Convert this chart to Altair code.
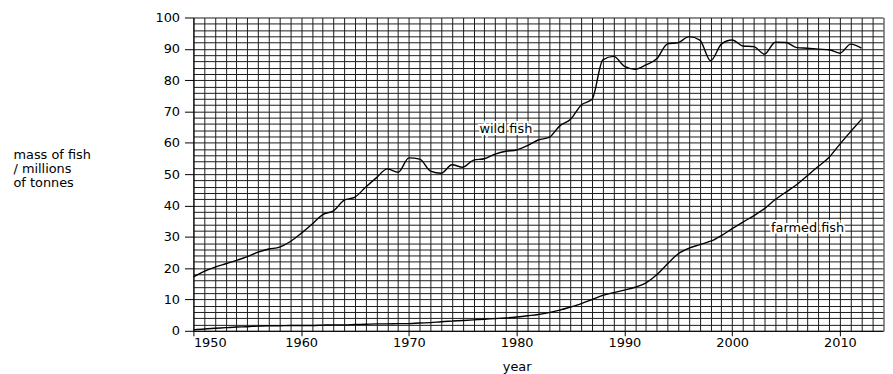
import altair as alt
import pandas as pd

years = list(range(1950, 2013))
wild = [17.2, 19.0, 20.3, 21.4, 22.5, 23.7, 25.1, 26.1, 26.7, 28.5,
        31.1, 34.0, 37.1, 38.3, 41.7, 42.7, 45.9, 48.9, 51.7, 50.6,
        55.2, 54.8, 51.0, 50.3, 53.0, 52.2, 54.5, 54.9, 56.4, 57.3,
        57.7, 59.1, 60.9, 61.7, 65.4, 67.5, 72.1, 73.9, 86.5, 87.6,
        84.4, 83.5, 84.9, 86.8, 91.6, 92.0, 93.9, 92.8, 86.2, 91.5,
        92.8, 90.9, 90.7, 88.3, 92.1, 92.0, 90.4, 90.2, 89.9, 89.7,
        88.6, 91.5, 90.2]
farmed = [0.3, 0.6, 0.8, 1.0, 1.2, 1.3, 1.5, 1.6, 1.6, 1.7,
          1.7, 1.7, 1.8, 1.9, 1.9, 2.0, 2.1, 2.2, 2.2, 2.3,
          2.3, 2.5, 2.6, 2.9, 3.1, 3.3, 3.5, 3.7, 3.9, 4.1,
          4.4, 4.8, 5.2, 5.8, 6.6, 7.6, 8.7, 10.0, 11.3, 12.2,
          13.0, 13.9, 15.3, 17.9, 21.4, 24.6, 26.4, 27.5, 28.6, 30.4,
          32.6, 34.7, 36.7, 39.0, 41.9, 44.3, 46.7, 49.6, 52.5, 55.4,
          59.6, 63.6, 67.5]

label_text = ["wild fish", "farmed fish"]
label_year = [1979.0, 2007.0]
label_mass = [64.5, 32.8]

x_grid = list(range(1950, 2015))
y_grid = list(range(0, 101, 2))

df = pd.DataFrame({
    "year": years * 2,
    "mass": wild + farmed,
    "series": ["wild fish"] * len(years) + ["farmed fish"] * len(years),
})
labels = pd.DataFrame({"text": label_text, "year": label_year, "mass": label_mass})

FONT = "DejaVu Sans"
xscale = alt.Scale(domain=[1950, 2014], nice=False, zero=False)
yscale = alt.Scale(domain=[0, 100], nice=False)

show10 = "datum.value % 10 === 0"

lines = alt.Chart(df).mark_line(color="black", strokeWidth=1.4, interpolate="monotone").encode(
    x=alt.X("year:Q", scale=xscale,
            axis=alt.Axis(orient="bottom", values=x_grid, tickCount=500, grid=True, format="d",
                          labelExpr=f"{show10} ? datum.label : ''",
                          labelOverlap=False,
                          tickOpacity={"condition": {"test": show10, "value": 1}, "value": 0},
                          tickSize=5, labelPadding=1, title="year",
                          titleX=326, titleY=40, titleAlign="center",
                          titleBaseline="alphabetic")),
    y=alt.Y("mass:Q", scale=yscale,
            axis=alt.Axis(orient="left", values=y_grid, tickCount=500, grid=True, format="d",
                          labelExpr=f"{show10} ? datum.label : ''",
                          labelOverlap=False,
                          tickOpacity={"condition": {"test": show10, "value": 1}, "value": 0},
                          tickSize=9, labelPadding=5,
                          title=["mass of fish", "/ millions", "of tonnes"],
                          titleAngle=0, titleAlign="left", titleBaseline="top",
                          titleX=-182, titleY=132, titleLineHeight=14)),
    detail="series:N",
)

halo = alt.Chart(labels).mark_text(
    font=FONT, fontSize=13, color="white", stroke="white", strokeWidth=4,
    strokeJoin="miter", align="center", baseline="middle"
).encode(x=alt.X("year:Q", scale=xscale), y=alt.Y("mass:Q", scale=yscale), text="text:N")

text = alt.Chart(labels).mark_text(
    font=FONT, fontSize=13, color="black", align="center", baseline="middle"
).encode(x=alt.X("year:Q", scale=xscale), y=alt.Y("mass:Q", scale=yscale), text="text:N")

chart = alt.layer(lines, halo, text).properties(
    width=695.5, height=316,
    autosize=alt.AutoSizeParams(type="none"),
    padding={"left": 187, "top": 8, "right": 2, "bottom": 44},
).configure_view(stroke=None).configure_axis(
    labelFont=FONT, labelFontSize=13, labelColor="black",
    titleFont=FONT, titleFontSize=13, titleFontWeight="normal", titleColor="black",
    tickColor="black", domainColor="black", domainWidth=1, tickWidth=1,
    gridColor="#1a1a1a", gridWidth=1, gridOpacity=1,
)

chart.save("out.html", embed_options={"renderer": "svg", "actions": False})
